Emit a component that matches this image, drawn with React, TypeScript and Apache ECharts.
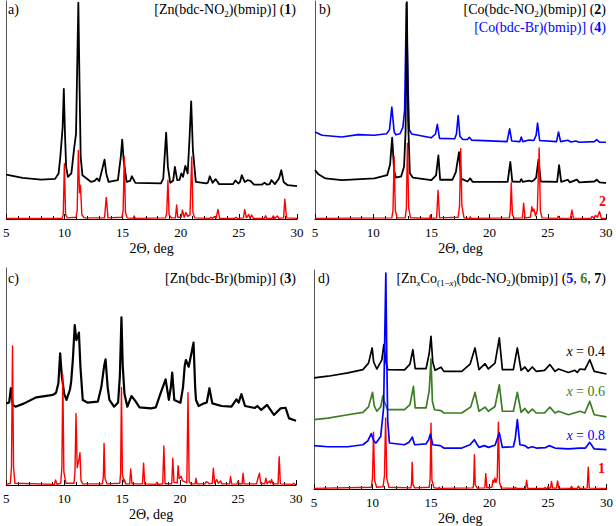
import React, { useEffect, useRef } from "react";
import * as echarts from "echarts";

// ---- axis ----
const xTicks = [5, 10, 15, 20, 25, 30];
const axisTitle = "2Θ, deg";

// ---- panel a: [Zn(bdc-NO2)(bmip)] (1) ----
const aObs = [
  [5.0, 20.4], [6.4, 18.9], [8.0, 18.1], [9.2, 18.4], [9.5, 20.9], [9.65, 28.5], [9.85, 42.2], [9.95, 59.7], [10.05, 39.1], [10.15, 23.9], [10.3, 19.3], [10.6, 20.9], [10.85, 33.0], [11.0, 39.1], [11.1, 69.6], [11.2, 99.2], [11.3, 61.9], [11.4, 28.5], [11.55, 20.1], [12.3, 17.0], [12.6, 17.5], [12.8, 18.6], [13.0, 17.4], [13.3, 23.9], [13.45, 27.2], [13.6, 20.9], [13.8, 17.0], [14.6, 17.8], [14.85, 28.5], [14.97, 36.4], [15.1, 26.9], [15.35, 17.0], [15.65, 17.5], [15.8, 19.6], [16.1, 16.6], [18.3, 16.3], [18.5, 18.5], [18.6, 26.9], [18.75, 39.6], [18.9, 23.9], [19.1, 16.6], [19.35, 17.5], [19.5, 23.9], [19.7, 17.8], [19.9, 18.0], [20.05, 20.9], [20.2, 19.3], [20.4, 24.4], [20.6, 20.9], [20.75, 36.1], [20.9, 54.0], [21.05, 31.5], [21.3, 17.0], [22.2, 16.3], [22.35, 16.8], [22.5, 19.6], [22.75, 16.6], [23.0, 18.3], [23.3, 16.0], [24.5, 16.0], [24.7, 17.7], [24.95, 16.3], [25.1, 17.0], [25.25, 20.1], [25.5, 17.0], [25.75, 17.8], [26.0, 17.5], [26.3, 15.8], [27.0, 15.8], [27.2, 16.7], [27.4, 15.8], [27.65, 16.0], [27.8, 17.8], [28.1, 16.0], [28.45, 18.6], [28.65, 22.4], [28.85, 17.0], [29.2, 15.5], [30, 15.1]
];
const aCalc = [
  [5, 0.3], [9.8, 0.3], [9.9, 2], [10.0, 25.4], [10.1, 2], [10.25, 0.5], [11.0, 0.8], [11.1, 4], [11.2, 31.5], [11.3, 12], [11.38, 15.5], [11.5, 2], [11.7, 0.5], [13.45, 0.5], [13.6, 9.9], [13.75, 0.5], [14.95, 0.8], [15.05, 4], [15.15, 28.5], [15.25, 3], [15.4, 0.5], [15.9, 0.3], [16.0, 1.4], [16.1, 0.3], [18.7, 0.5], [18.8, 3], [18.9, 17.8], [19.0, 2], [19.2, 0.5], [19.55, 0.5], [19.65, 6.4], [19.75, 0.8], [20.05, 0.8], [20.15, 4.1], [20.3, 0.8], [20.45, 3.0], [20.6, 1.2], [20.8, 2], [20.95, 28.5], [21.05, 3], [21.2, 0.5], [22.5, 0.3], [22.6, 0.8], [22.75, 0.3], [22.9, 1.1], [23.05, 0.4], [23.2, 4.4], [23.35, 0.3], [24.65, 0.3], [24.75, 0.8], [24.85, 0.3], [25.4, 0.5], [25.5, 4.4], [25.65, 0.5], [25.85, 2.1], [25.95, 0.5], [26.1, 1.8], [26.25, 0.3], [27.2, 0.3], [27.3, 1.5], [27.4, 0.3], [27.85, 0.3], [27.95, 1.4], [28.1, 0.3], [28.3, 1.4], [28.45, 0.3], [28.85, 0.5], [28.95, 9.1], [29.1, 0.5], [30, 0.3]
];

// ---- panel b: [Co(bdc-NO2)(bmip)] (2), [Co(bdc-Br)(bmip)] (4) ----
const bBr = [
  [5.0, 39.9], [5.6, 38.4], [7.3, 37.6], [8.7, 38.7], [10.1, 38.4], [11.15, 39.1], [11.4, 41], [11.6, 51.3], [11.8, 40], [11.95, 38.6], [12.3, 39.1], [12.55, 42], [12.7, 50], [12.85, 99], [13.0, 60], [13.1, 41], [13.3, 39], [15.0, 37.3], [15.35, 39], [15.51, 43.4], [15.7, 37], [17.0, 36.8], [17.15, 39], [17.3, 47.5], [17.45, 38], [17.7, 36.5], [18.1, 36.5], [18.26, 37.5], [18.45, 36.2], [21.5, 35.5], [21.72, 41.4], [21.9, 35.8], [22.6, 35.5], [22.72, 37.6], [22.85, 35.5], [23.4, 36.2], [23.8, 36], [24.0, 38.5], [24.12, 44.0], [24.3, 36.0], [25.75, 35.5], [25.92, 39.9], [26.1, 35.5], [26.72, 36.1], [27.0, 35.3], [27.4, 35.8], [27.7, 35.2], [29.0, 35.5], [29.2, 36.4], [29.45, 35.2], [30, 35.2]
];
const bNO2 = [
  [5.0, 22.4], [5.3, 20.5], [5.9, 18.6], [7.3, 17.8], [10.1, 18.6], [11.2, 20.1], [11.45, 25], [11.63, 37.3], [11.8, 22], [11.95, 19], [12.4, 19.5], [12.65, 24], [12.78, 40], [12.89, 99.5], [13.0, 45], [13.15, 21], [13.4, 19.0], [15.0, 17.8], [15.4, 20], [15.6, 29.2], [15.75, 18], [16.8, 18], [17.1, 21.5], [17.37, 30.7], [17.55, 18.5], [18.1, 17.2], [18.34, 18.6], [18.55, 17.0], [21.55, 17.0], [21.78, 26.2], [21.95, 17.2], [22.6, 17.0], [22.72, 18.3], [22.85, 17.0], [23.4, 17.6], [23.6, 17.2], [23.8, 17.8], [24.0, 19], [24.2, 27.2], [24.4, 17.2], [25.8, 17.0], [25.97, 24.7], [26.15, 17.0], [26.72, 18.0], [26.9, 16.8], [27.5, 18.1], [27.7, 16.8], [29.0, 17.2], [29.2, 18.0], [29.45, 16.8], [29.9, 16.6], [30, 16.6]
];
const bCalc = [
  [5, 0.3], [11.6, 0.5], [11.7, 4], [11.8, 28.5], [11.9, 4], [12.05, 0.5], [12.75, 0.6], [12.85, 5], [12.94, 34.8], [13.05, 5], [13.2, 0.6], [14.85, 0.3], [14.9, 1.8], [14.95, 0.3], [15.45, 0.5], [15.57, 13.2], [15.7, 0.5], [17.3, 0.8], [17.42, 6], [17.52, 32.3], [17.62, 6], [17.8, 0.6], [18.28, 0.3], [18.34, 1.0], [18.42, 0.3], [21.7, 0.5], [21.78, 4], [21.86, 16.6], [21.96, 2], [22.1, 0.4], [22.82, 0.5], [22.92, 7.2], [23.05, 0.5], [23.5, 0.8], [23.63, 5.6], [23.72, 3.5], [23.8, 4.6], [23.95, 1.5], [24.1, 4], [24.26, 32.6], [24.36, 4], [24.5, 0.5], [25.82, 0.3], [25.9, 1.3], [26.0, 0.3], [26.95, 0.4], [27.07, 4.1], [27.2, 0.4], [28.7, 0.3], [28.8, 1.2], [28.95, 0.4], [29.1, 1.7], [29.25, 0.8], [29.45, 3.4], [29.6, 0.3], [30, 0.3]
];

// ---- panel c: [Zn(bdc-Br)(bmip)] (3) ----
const cObs = [
  [5.0, 37.6], [5.25, 38], [5.4, 44.6], [5.55, 37], [5.8, 36.1], [6.5, 37.5], [7.6, 40.4], [9.03, 41.5], [9.3, 42.5], [9.5, 47], [9.65, 60.7], [9.8, 49.9], [10.0, 42], [10.2, 39.2], [10.5, 44], [10.6, 47.6], [10.75, 58], [10.91, 73.7], [11.05, 66.8], [11.2, 69], [11.27, 70.2], [11.4, 54.5], [11.6, 39.2], [12.0, 38], [12.9, 38.4], [13.2, 45], [13.45, 55], [13.57, 57.9], [13.75, 45], [13.9, 39.2], [14.3, 36.1], [14.65, 38], [14.8, 50], [14.94, 77.3], [15.05, 55], [15.2, 42], [15.45, 36.1], [15.8, 41.0], [16.1, 39], [16.5, 35.8], [17.5, 35.3], [17.9, 35.8], [18.32, 42.3], [18.75, 48.7], [19.03, 39.2], [19.2, 45], [19.32, 51.8], [19.5, 39.2], [20.03, 37.9], [20.25, 45], [20.4, 55], [20.5, 57.6], [20.74, 54.5], [20.95, 60], [21.16, 65.6], [21.3, 45], [21.37, 39.2], [21.6, 36.4], [22.0, 37.5], [22.3, 38], [22.53, 44.6], [22.78, 37.6], [23.58, 36.4], [24.43, 36.1], [24.86, 39.5], [25.05, 38], [25.29, 41.9], [25.6, 36.4], [26.45, 35.5], [26.66, 36.4], [27.0, 34.6], [27.5, 36.9], [28.1, 32.3], [28.67, 35.3], [29.1, 35.6], [29.4, 30.7], [30, 29.6]
];
const cCalc = [
  [5, 0.3], [5.35, 0.8], [5.45, 8], [5.54, 64.1], [5.63, 8], [5.75, 0.8], [9.15, 0.3], [9.26, 2.3], [9.38, 0.3], [9.7, 0.8], [9.8, 8], [9.88, 50.7], [9.97, 6], [10.15, 0.8], [10.85, 0.8], [10.93, 6], [11.02, 33.0], [11.12, 8], [11.2, 10], [11.28, 12], [11.36, 14.9], [11.45, 2], [11.6, 0.5], [13.3, 0.6], [13.38, 4], [13.44, 19.2], [13.52, 3], [13.7, 0.5], [14.8, 0.8], [14.87, 6], [14.94, 45.0], [15.02, 5], [15.15, 1.5], [15.2, 2.5], [15.3, 0.5], [15.65, 0.5], [15.74, 7.4], [15.85, 0.5], [16.75, 0.5], [16.85, 10.0], [16.95, 0.5], [17.9, 0.3], [18.0, 1.2], [18.1, 0.3], [18.5, 0.6], [18.6, 18.0], [18.7, 0.6], [19.28, 0.6], [19.37, 12.3], [19.47, 1.2], [19.75, 1], [19.83, 8.9], [19.93, 3], [20.1, 4], [20.2, 2], [20.58, 1], [20.68, 42.5], [20.78, 1.5], [20.95, 0.5], [21.3, 0.5], [21.37, 3.1], [21.45, 0.5], [22.15, 0.5], [22.25, 1.5], [22.4, 1.2], [22.5, 0.5], [22.78, 0.8], [22.87, 7.7], [22.98, 0.8], [23.15, 2.5], [23.3, 0.8], [23.5, 1.8], [23.6, 0.5], [24.27, 0.5], [24.35, 3.8], [24.45, 0.5], [24.9, 0.4], [25.0, 1.8], [25.1, 0.6], [25.35, 0.6], [25.43, 5.4], [25.52, 0.5], [26.6, 0.5], [26.7, 2.8], [26.85, 5.4], [26.95, 0.8], [27.3, 0.5], [27.4, 3.1], [27.5, 0.6], [27.7, 1.8], [27.8, 0.8], [27.9, 2.5], [28.0, 0.5], [28.45, 0.5], [28.55, 13.0], [28.65, 0.5], [29.7, 0.3], [29.8, 0.8], [29.9, 0.3], [30, 0.3]
];

// ---- panel d: [ZnxCo(1-x)(bdc-NO2)(bmip)] (5, 6, 7) ----
const dX04 = [
  [5.0, 50.7], [6.19, 51.5], [7.9, 53.0], [9.18, 54.5], [9.66, 57.5], [9.97, 64.4], [10.1, 58], [10.37, 54.8], [10.8, 59], [10.97, 65.9], [11.15, 58], [11.3, 54.5], [12.74, 54.4], [13.2, 57], [13.45, 63.6], [13.65, 55], [14.58, 55], [14.85, 62], [15.0, 69.7], [15.15, 58], [15.35, 54.2], [15.86, 55.6], [16.1, 53.7], [17.63, 53.7], [18.34, 57], [18.76, 64.4], [19.1, 54.5], [19.62, 57.2], [19.9, 54.8], [20.47, 57.5], [20.84, 69.0], [21.1, 54.5], [22.04, 54.5], [22.38, 64.4], [22.7, 54.2], [23.03, 55.7], [23.3, 53.7], [23.66, 55.7], [24.0, 53.7], [24.7, 54.2], [25.16, 56.8], [25.6, 53.7], [25.9, 54.8], [26.75, 53.2], [27.3, 54.2], [27.5, 53.2], [27.73, 54.8], [28.15, 54.5], [28.57, 59.0], [28.95, 53.7], [30, 52.5]
];
const dX06 = [
  [5.0, 31.7], [6.19, 32.4], [7.9, 33.9], [9.18, 35.0], [9.66, 37.5], [10.0, 44.1], [10.15, 38], [10.37, 35.5], [10.7, 37.5], [10.89, 42.6], [11.0, 40], [11.3, 36.2], [12.74, 36.2], [13.2, 38.5], [13.5, 46.9], [13.65, 37], [14.58, 37], [14.85, 45], [15.0, 59.4], [15.12, 40], [15.3, 36.2], [15.86, 35.8], [16.1, 34.7], [17.63, 34.7], [18.4, 37.5], [18.76, 44.1], [19.1, 35.5], [19.62, 37.4], [19.9, 35.5], [20.47, 37.7], [20.84, 47.6], [21.1, 35.5], [22.04, 35.5], [22.38, 44.1], [22.7, 35], [23.03, 36.8], [23.3, 34.7], [23.66, 36.5], [24.0, 34.7], [24.7, 34.7], [25.16, 37.4], [25.6, 34.7], [25.9, 35.5], [26.75, 33.9], [27.73, 35.5], [28.15, 34.7], [28.57, 40.0], [28.95, 33.9], [30, 32.9]
];
const dX08 = [
  [5.0, 19.8], [6.19, 19.3], [7.9, 19.3], [9.18, 20.2], [9.6, 22], [9.9, 25.3], [10.1, 22], [10.3, 21.0], [10.7, 24], [10.95, 37], [11.05, 70], [11.14, 98.6], [11.22, 60], [11.3, 31], [11.45, 21], [12.74, 20.2], [13.15, 21.5], [13.4, 23.7], [13.6, 20.2], [14.58, 20.6], [14.8, 22.5], [14.95, 25.1], [15.15, 20.2], [15.8, 19.8], [16.1, 18.7], [17.63, 18.7], [18.34, 20.2], [18.7, 22.5], [19.1, 19], [19.57, 19.8], [19.9, 19], [20.47, 20], [20.84, 25.6], [21.1, 19], [22.04, 19.3], [22.2, 23], [22.38, 31.7], [22.6, 20.2], [23.03, 19.8], [23.3, 18.7], [23.66, 19.3], [24.0, 18.7], [24.8, 18.9], [25.1, 19.8], [25.6, 18.7], [26.75, 18.3], [27.7, 18.7], [28.2, 18.7], [28.57, 21.3], [28.95, 18.3], [30, 18.0]
];
const dCalc = [
  [5, 0.3], [9.9, 0.8], [10.0, 5], [10.09, 25.9], [10.18, 4], [10.35, 0.8], [10.9, 1], [11.02, 6], [11.12, 32.4], [11.22, 5], [11.4, 0.8], [13.28, 0.5], [13.34, 3], [13.39, 12.2], [13.46, 2], [13.6, 0.5], [14.85, 0.8], [14.93, 5], [15.0, 30.1], [15.08, 4], [15.25, 0.6], [15.65, 0.3], [15.7, 0.8], [15.78, 0.3], [18.6, 0.5], [18.65, 3], [18.71, 15.7], [18.78, 2], [18.95, 0.4], [19.6, 0.5], [19.68, 7.0], [19.77, 0.6], [20.2, 0.8], [20.3, 4], [20.38, 3], [20.45, 5.0], [20.55, 3], [20.66, 5], [20.76, 30.5], [20.86, 3], [21.0, 0.5], [22.15, 0.3], [22.2, 0.8], [22.3, 0.3], [23.08, 0.3], [23.17, 4.0], [23.27, 0.3], [24.7, 0.3], [24.75, 0.8], [24.82, 0.3], [24.95, 0.3], [25.0, 1.2], [25.1, 0.4], [25.22, 0.4], [25.3, 3.5], [25.4, 0.4], [25.72, 0.4], [25.82, 3.7], [25.92, 0.4], [26.95, 0.3], [27.0, 1.3], [27.1, 0.3], [27.5, 0.3], [27.6, 1.3], [27.7, 0.3], [28.35, 0.4], [28.44, 10.0], [28.53, 0.4], [30, 0.3]
];

const RED = "#ff0000";
const BLUE = "#0000ff";
const GREEN = "#3a7d22";
const BLACK = "#000000";
const SERIF = "Liberation Serif, Times New Roman, serif";

const grids = [
  { left: 4, top: 1, width: 293, height: 218 },
  { left: 315, top: 1, width: 291, height: 218 },
  { left: 3, top: 268, width: 293, height: 217 },
  { left: 314, top: 270, width: 293, height: 219 },
];

function makeX(i: number) {
  return {
    type: "value",
    gridIndex: i,
    min: xTicks[0],
    max: xTicks[xTicks.length - 1],
    interval: xTicks[1] - xTicks[0],
    name: axisTitle,
    nameLocation: "middle",
    nameGap: 22,
    nameTextStyle: { fontFamily: SERIF, fontSize: 14, color: "#000" },
    axisLine: { show: true, onZero: false, lineStyle: { color: "#000", width: 1 } },
    axisTick: { show: true, inside: true, length: 5, lineStyle: { color: "#000" } },
    minorTick: { show: true, splitNumber: 5, length: 3, lineStyle: { color: "#000" } },
    axisLabel: { fontFamily: SERIF, fontSize: 13, color: "#000", margin: 7, showMinLabel: true, showMaxLabel: true },
    splitLine: { show: false },
  };
}
function makeY(i: number) {
  return {
    type: "value",
    gridIndex: i,
    min: 0,
    max: 100,
    axisLine: { show: true, onZero: false, lineStyle: { color: "#555", width: 1 } },
    axisTick: { show: false },
    axisLabel: { show: false },
    splitLine: { show: false },
  };
}
function line(data: number[][], gi: number, color: string, width: number, z: number) {
  return {
    type: "line",
    xAxisIndex: gi,
    yAxisIndex: gi,
    data,
    symbol: "none",
    showSymbol: false,
    z,
    lineStyle: { color, width, join: "round" },
    itemStyle: { color },
  };
}

const base = { fontFamily: SERIF, fontSize: 14, fill: "#000" };
function text(x: number, y: number, t: string, extra: any = {}) {
  return {
    type: "text",
    x,
    y,
    z: 100,
    style: { ...base, text: t, align: "right", verticalAlign: "middle", ...extra },
  };
}
const richBase = {
  a: { fontFamily: SERIF, fontSize: 14, lineHeight: 18, fill: "#000" },
  s: { fontFamily: SERIF, fontSize: 9, lineHeight: 10, verticalAlign: "bottom", fill: "#000" },
  si: { fontFamily: SERIF, fontSize: 9, lineHeight: 10, verticalAlign: "bottom", fontStyle: "italic", fill: "#000" },
  b: { fontFamily: SERIF, fontSize: 14, lineHeight: 18, fontWeight: "bold", fill: "#000" },
};
function colorRich(c: string) {
  const r: any = {};
  Object.keys(richBase).forEach((k) => (r[k] = { ...(richBase as any)[k], fill: c }));
  return r;
}

export default function App() {
  const ref = useRef<HTMLDivElement>(null);
  useEffect(() => {
    document.body.style.margin = "0";
    const chart = echarts.init(ref.current!, undefined, { renderer: "svg" });
    const option: any = {
      animation: false,
      backgroundColor: "#ffffff",
      textStyle: { fontFamily: SERIF },
      grid: grids,
      xAxis: [0, 1, 2, 3].map(makeX),
      yAxis: [0, 1, 2, 3].map(makeY),
      series: [
        line(aObs, 0, BLACK, 1.8, 3),
        line(aCalc, 0, RED, 1.4, 4),
        line(bBr, 1, BLUE, 1.6, 2),
        line(bNO2, 1, BLACK, 1.8, 3),
        line(bCalc, 1, RED, 1.4, 4),
        line(cObs, 2, BLACK, 2.2, 3),
        line(cCalc, 2, RED, 1.4, 4),
        line(dX04, 3, BLACK, 1.7, 3),
        line(dX06, 3, GREEN, 1.7, 3),
        line(dCalc, 3, RED, 1.4, 4),
        line(dX08, 3, BLUE, 1.7, 5),
      ],
      graphic: [
        text(8, 9, "a)", { align: "left" }),
        text(296, 9, "{a|[Zn(bdc-NO}{s|2}{a|)(bmip)] (}{b|1}{a|)}", { rich: richBase }),
        text(319, 9, "b)", { align: "left" }),
        text(606, 9, "{a|[Co(bdc-NO}{s|2}{a|)(bmip)] (}{b|2}{a|)}", { rich: richBase }),
        text(606, 27, "{a|[Co(bdc-Br)(bmip)] (}{b|4}{a|)}", { rich: colorRich(BLUE) }),
        text(606, 201, "{b|2}", { rich: colorRich(RED) }),
        text(8, 278, "c)", { align: "left" }),
        text(296, 278, "{a|[Zn(bdc-Br)(bmip)] (}{b|3}{a|)}", { rich: richBase }),
        text(318, 278, "d)", { align: "left" }),
        text(
          606,
          278,
          "{a|[Zn}{si|x}{a|Co}{s|(1−}{si|x}{s|)}{a|(bdc-NO}{s|2}{a|)(bmip)] (}{bb|5}{a|, }{bg|6}{a|, }{b|7}{a|)}",
          {
            rich: {
              ...richBase,
              bb: { ...richBase.b, fill: BLUE },
              bg: { ...richBase.b, fill: GREEN },
            },
          }
        ),
        text(605, 351, "{i|x}{a| = 0.4}", { rich: { ...richBase, i: { ...richBase.a, fontStyle: "italic" } } }),
        text(605, 391, "{i|x}{a| = 0.6}", {
          rich: { ...colorRich(GREEN), i: { ...richBase.a, fontStyle: "italic", fill: GREEN } },
        }),
        text(605, 435, "{i|x}{a| = 0.8}", {
          rich: { ...colorRich(BLUE), i: { ...richBase.a, fontStyle: "italic", fill: BLUE } },
        }),
        text(605, 468, "{b|1}", { rich: colorRich(RED) }),
      ],
    };
    chart.setOption(option);
    return () => chart.dispose();
  }, []);
  return <div ref={ref} style={{ width: 616, height: 526 }} />;
}
